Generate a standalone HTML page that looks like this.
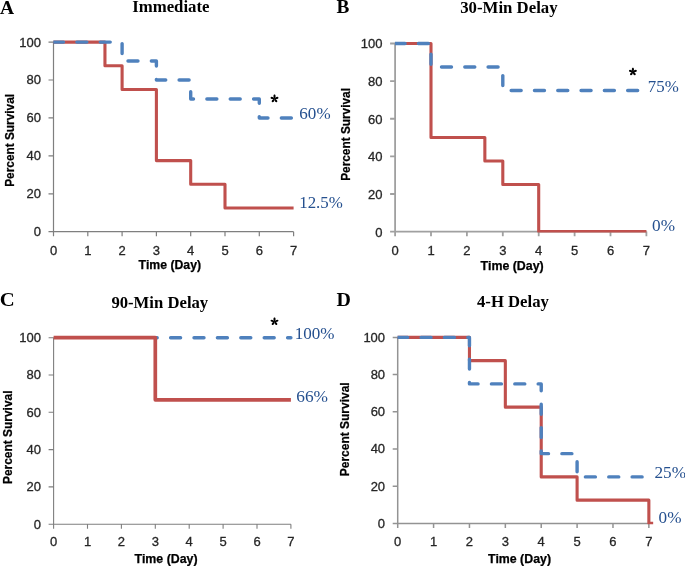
<!DOCTYPE html>
<html><head><meta charset="utf-8"><style>
html,body{margin:0;padding:0;background:#fff;width:685px;height:566px;overflow:hidden}
svg{display:block;will-change:transform}
.s{font-family:"Liberation Sans",sans-serif}
.r{font-family:"Liberation Serif",serif}
</style></head><body>
<svg width="685" height="566" viewBox="0 0 685 566">
<defs><g id="star" fill="#000" transform="scale(1.08)"><path id="pet" d="M0 0.3C-1.35 -1.5 -1.3 -3.8 0 -3.8C1.3 -3.8 1.35 -1.5 0 0.3Z"/><use href="#pet" transform="rotate(72)"/><use href="#pet" transform="rotate(144)"/><use href="#pet" transform="rotate(216)"/><use href="#pet" transform="rotate(288)"/></g></defs>
<rect width="685" height="566" fill="#fff"/>
<g><path d="M53.5 41.6V231.7H293.6M48.5 231.7H53.5M48.5 193.78H53.5M48.5 155.86H53.5M48.5 117.94H53.5M48.5 80.02H53.5M48.5 42.1H53.5M53.5 231.7V236.3M87.8 231.7V236.3M122.1 231.7V236.3M156.4 231.7V236.3M190.7 231.7V236.3M225 231.7V236.3M259.3 231.7V236.3M293.6 231.7V236.3" fill="none" stroke="#7f7f7f" stroke-width="1.2"/>
<g class="s" font-size="13" fill="#262626" stroke="#262626" stroke-width="0.3"><text x="40.9" y="236.1" text-anchor="end">0</text><text x="40.9" y="198.18" text-anchor="end">20</text><text x="40.9" y="160.26" text-anchor="end">40</text><text x="40.9" y="122.34" text-anchor="end">60</text><text x="40.9" y="84.42" text-anchor="end">80</text><text x="40.9" y="46.5" text-anchor="end">100</text><text x="53.5" y="255" text-anchor="middle">0</text><text x="87.8" y="255" text-anchor="middle">1</text><text x="122.1" y="255" text-anchor="middle">2</text><text x="156.4" y="255" text-anchor="middle">3</text><text x="190.7" y="255" text-anchor="middle">4</text><text x="225" y="255" text-anchor="middle">5</text><text x="259.3" y="255" text-anchor="middle">6</text><text x="293.6" y="255" text-anchor="middle">7</text></g>
<clipPath id="cA"><rect x="0" y="0" width="685" height="232.6"/></clipPath><g clip-path="url(#cA)">
<path d="M53.5 42.1 L104.95 42.1 L104.95 65.8 L122.1 65.8 L122.1 89.5 L156.4 89.5 L156.4 160.6 L190.7 160.6 L190.7 184.3 L225 184.3 L225 208 L293.6 208" fill="none" stroke="#C0504D" stroke-width="3.1" stroke-linejoin="round"/><clipPath id="bA"><rect x="53.3" y="0" width="631.7" height="566"/></clipPath><g clip-path="url(#bA)"><path d="M53.5 42.1 L122.1 42.1 L122.1 61.06 L156.4 61.06 L156.4 80.02 L190.7 80.02 L190.7 98.98 L259.3 98.98 L259.3 117.94 L293.6 117.94" fill="none" stroke="#4F81BD" stroke-width="3.4" stroke-linecap="round" stroke-linejoin="round" stroke-dasharray="10 13.36" stroke-dashoffset="0"/></g>
</g></g>
<g><path d="M395.1 43V231.6H646.4M390.1 231.6H395.1M390.1 193.98H395.1M390.1 156.36H395.1M390.1 118.74H395.1M390.1 81.12H395.1M390.1 43.5H395.1M395.1 231.6V236.2M431 231.6V236.2M466.9 231.6V236.2M502.8 231.6V236.2M538.7 231.6V236.2M574.6 231.6V236.2M610.5 231.6V236.2M646.4 231.6V236.2" fill="none" stroke="#a0a0a0" stroke-width="1.8"/>
<g class="s" font-size="13" fill="#262626" stroke="#262626" stroke-width="0.3"><text x="382.5" y="236.5" text-anchor="end">0</text><text x="382.5" y="198.88" text-anchor="end">20</text><text x="382.5" y="161.26" text-anchor="end">40</text><text x="382.5" y="123.64" text-anchor="end">60</text><text x="382.5" y="86.02" text-anchor="end">80</text><text x="382.5" y="48.4" text-anchor="end">100</text><text x="395.1" y="254.9" text-anchor="middle">0</text><text x="431" y="254.9" text-anchor="middle">1</text><text x="466.9" y="254.9" text-anchor="middle">2</text><text x="502.8" y="254.9" text-anchor="middle">3</text><text x="538.7" y="254.9" text-anchor="middle">4</text><text x="574.6" y="254.9" text-anchor="middle">5</text><text x="610.5" y="254.9" text-anchor="middle">6</text><text x="646.4" y="254.9" text-anchor="middle">7</text></g>
<clipPath id="cB"><rect x="0" y="0" width="685" height="232.5"/></clipPath><g clip-path="url(#cB)">
<path d="M395.1 43.5 L431 43.5 L431 137.55 L484.85 137.55 L484.85 161.06 L502.8 161.06 L502.8 184.57 L538.7 184.57 L538.7 231.6 L646.4 231.6" fill="none" stroke="#C0504D" stroke-width="3.1" stroke-linejoin="round"/><clipPath id="bB"><rect x="394.9" y="0" width="290.1" height="566"/></clipPath><g clip-path="url(#bB)"><path d="M395.1 43.5 L431 43.5 L431 67.01 L502.8 67.01 L502.8 90.53 L646.4 90.53" fill="none" stroke="#4F81BD" stroke-width="3.4" stroke-linecap="round" stroke-linejoin="round" stroke-dasharray="10 13.3" stroke-dashoffset="0"/></g>
</g></g>
<g><path d="M53.6 337.2V524.2H290.9M48.6 524.2H53.6M48.6 486.9H53.6M48.6 449.6H53.6M48.6 412.3H53.6M48.6 375H53.6M48.6 337.7H53.6M53.6 524.2V528.8M87.5 524.2V528.8M121.4 524.2V528.8M155.3 524.2V528.8M189.2 524.2V528.8M223.1 524.2V528.8M257 524.2V528.8M290.9 524.2V528.8" fill="none" stroke="#7f7f7f" stroke-width="1.1"/>
<g class="s" font-size="13" fill="#262626" stroke="#262626" stroke-width="0.3"><text x="41" y="528.6" text-anchor="end">0</text><text x="41" y="491.3" text-anchor="end">20</text><text x="41" y="454" text-anchor="end">40</text><text x="41" y="416.7" text-anchor="end">60</text><text x="41" y="379.4" text-anchor="end">80</text><text x="41" y="342.1" text-anchor="end">100</text><text x="53.6" y="546.2" text-anchor="middle">0</text><text x="87.5" y="546.2" text-anchor="middle">1</text><text x="121.4" y="546.2" text-anchor="middle">2</text><text x="155.3" y="546.2" text-anchor="middle">3</text><text x="189.2" y="546.2" text-anchor="middle">4</text><text x="223.1" y="546.2" text-anchor="middle">5</text><text x="257" y="546.2" text-anchor="middle">6</text><text x="290.9" y="546.2" text-anchor="middle">7</text></g>
<clipPath id="cC"><rect x="0" y="0" width="685" height="525.1"/></clipPath><g clip-path="url(#cC)">
<clipPath id="bC"><rect x="154.28" y="0" width="530.72" height="566"/></clipPath><g clip-path="url(#bC)"><path d="M53.6 337.7 L290.9 337.7" fill="none" stroke="#4F81BD" stroke-width="3.4" stroke-linecap="round" stroke-linejoin="round" stroke-dasharray="10 13.4" stroke-dashoffset="0"/></g><path d="M53.6 337.7 L155.3 337.7 L155.3 399.8 L290.9 399.8" fill="none" stroke="#C0504D" stroke-width="3.7" stroke-linejoin="round"/>
</g></g>
<g><path d="M397.7 336.9V523.4H648.86M392.7 523.4H397.7M392.7 486.2H397.7M392.7 449H397.7M392.7 411.8H397.7M392.7 374.6H397.7M392.7 337.4H397.7M397.7 523.4V528M433.58 523.4V528M469.46 523.4V528M505.34 523.4V528M541.22 523.4V528M577.1 523.4V528M612.98 523.4V528M648.86 523.4V528" fill="none" stroke="#939393" stroke-width="1.5"/>
<g class="s" font-size="13" fill="#262626" stroke="#262626" stroke-width="0.3"><text x="385.1" y="527.8" text-anchor="end">0</text><text x="385.1" y="490.6" text-anchor="end">20</text><text x="385.1" y="453.4" text-anchor="end">40</text><text x="385.1" y="416.2" text-anchor="end">60</text><text x="385.1" y="379" text-anchor="end">80</text><text x="385.1" y="341.8" text-anchor="end">100</text><text x="397.7" y="545.6" text-anchor="middle">0</text><text x="433.58" y="545.6" text-anchor="middle">1</text><text x="469.46" y="545.6" text-anchor="middle">2</text><text x="505.34" y="545.6" text-anchor="middle">3</text><text x="541.22" y="545.6" text-anchor="middle">4</text><text x="577.1" y="545.6" text-anchor="middle">5</text><text x="612.98" y="545.6" text-anchor="middle">6</text><text x="648.86" y="545.6" text-anchor="middle">7</text></g>
<clipPath id="cD"><rect x="0" y="0" width="685" height="524.3"/></clipPath><g clip-path="url(#cD)">
<path d="M397.7 337.4 L469.46 337.4 L469.46 360.65 L505.34 360.65 L505.34 407.15 L541.22 407.15 L541.22 476.9 L577.1 476.9 L577.1 500.15 L648.86 500.15 L648.86 523.4 L653.17 523.4" fill="none" stroke="#C0504D" stroke-width="3.1" stroke-linejoin="round"/><clipPath id="bD"><rect x="397.5" y="0" width="287.5" height="566"/></clipPath><g clip-path="url(#bD)"><path d="M397.7 337.4 L469.46 337.4 L469.46 383.9 L541.22 383.9 L541.22 453.65 L577.1 453.65 L577.1 476.9 L648.86 476.9" fill="none" stroke="#4F81BD" stroke-width="3.4" stroke-linecap="round" stroke-linejoin="round" stroke-dasharray="10 13.37" stroke-dashoffset="0"/></g>
</g></g>
<use href="#star" x="274.5" y="98.7"/>
<use href="#star" x="632.9" y="71.8"/>
<use href="#star" x="274.5" y="321.6"/>
<text id="lA" class="r" font-size="19.5" font-weight="bold" fill="#000" x="0" y="14">A</text>
<text id="lB" class="r" font-size="19.5" font-weight="bold" fill="#000" textLength="12.85" lengthAdjust="spacingAndGlyphs" x="336.41" y="12.8">B</text>
<text id="lC" class="r" font-size="19.5" font-weight="bold" fill="#000" textLength="14.99" lengthAdjust="spacingAndGlyphs" x="-0.22" y="306">C</text>
<text id="lD" class="r" font-size="19.5" font-weight="bold" fill="#000" textLength="14.4" lengthAdjust="spacingAndGlyphs" x="336.53" y="305.8">D</text>
<text id="tA" class="r" font-size="17.5" font-weight="bold" fill="#000" textLength="77.44" lengthAdjust="spacingAndGlyphs" x="132.15" y="12.4">Immediate</text>
<text id="tB" class="r" font-size="17.5" font-weight="bold" fill="#000" textLength="97.46" lengthAdjust="spacingAndGlyphs" x="460.16" y="12.5">30-Min Delay</text>
<text id="tC" class="r" font-size="17.5" font-weight="bold" fill="#000" textLength="96.85" lengthAdjust="spacingAndGlyphs" x="111.38" y="307.6">90-Min Delay</text>
<text id="tD" class="r" font-size="17.5" font-weight="bold" fill="#000" textLength="71.86" lengthAdjust="spacingAndGlyphs" x="476.99" y="307.3">4-H Delay</text>
<text id="xA" class="s" font-size="12" font-weight="bold" fill="#000" stroke="#000" stroke-width="0.25" textLength="62.41" lengthAdjust="spacingAndGlyphs" x="138.63" y="269.1">Time (Day)</text>
<text id="xB" class="s" font-size="12" font-weight="bold" fill="#000" stroke="#000" stroke-width="0.25" textLength="63.13" lengthAdjust="spacingAndGlyphs" x="480.61" y="270.1">Time (Day)</text>
<text id="xC" class="s" font-size="12" font-weight="bold" fill="#000" stroke="#000" stroke-width="0.25" textLength="62.91" lengthAdjust="spacingAndGlyphs" x="134.61" y="563.2">Time (Day)</text>
<text id="xD" class="s" font-size="12" font-weight="bold" fill="#000" stroke="#000" stroke-width="0.25" textLength="62.95" lengthAdjust="spacingAndGlyphs" x="488.08" y="562.7">Time (Day)</text>
<text id="yA" class="s" font-size="12.8" font-weight="bold" fill="#000" stroke="#000" stroke-width="0.25" textLength="92.93" lengthAdjust="spacingAndGlyphs" transform="translate(13.7 186.83) rotate(-90)">Percent Survival</text>
<text id="yB" class="s" font-size="12.8" font-weight="bold" fill="#000" stroke="#000" stroke-width="0.25" textLength="92.78" lengthAdjust="spacingAndGlyphs" transform="translate(350.1 180.83) rotate(-90)">Percent Survival</text>
<text id="yC" class="s" font-size="12.8" font-weight="bold" fill="#000" stroke="#000" stroke-width="0.25" textLength="93.61" lengthAdjust="spacingAndGlyphs" transform="translate(12 484.08) rotate(-90)">Percent Survival</text>
<text id="yD" class="s" font-size="12.8" font-weight="bold" fill="#000" stroke="#000" stroke-width="0.25" textLength="93.87" lengthAdjust="spacingAndGlyphs" transform="translate(348.6 476.2) rotate(-90)">Percent Survival</text>
<text id="pA1" class="r" font-size="17.4" fill="#25508F" textLength="31.27" lengthAdjust="spacingAndGlyphs" x="299.33" y="118.9">60%</text>
<text id="pA2" class="r" font-size="17.4" fill="#25508F" textLength="43.61" lengthAdjust="spacingAndGlyphs" x="299.2" y="208.2">12.5%</text>
<text id="pB1" class="r" font-size="17.4" fill="#25508F" textLength="31" lengthAdjust="spacingAndGlyphs" x="647.84" y="91.8">75%</text>
<text id="pB2" class="r" font-size="17.4" fill="#25508F" textLength="22.95" lengthAdjust="spacingAndGlyphs" x="652.08" y="231.1">0%</text>
<text id="pC1" class="r" font-size="17.4" fill="#25508F" textLength="39.81" lengthAdjust="spacingAndGlyphs" x="294.63" y="339.2">100%</text>
<text id="pC2" class="r" font-size="17.4" fill="#25508F" textLength="31.79" lengthAdjust="spacingAndGlyphs" x="296.26" y="402.1">66%</text>
<text id="pD1" class="r" font-size="17.4" fill="#25508F" textLength="31.64" lengthAdjust="spacingAndGlyphs" x="654.38" y="477.8">25%</text>
<text id="pD2" class="r" font-size="17.4" fill="#25508F" textLength="22.89" lengthAdjust="spacingAndGlyphs" x="658.6" y="522.7">0%</text>
</svg></body></html>
